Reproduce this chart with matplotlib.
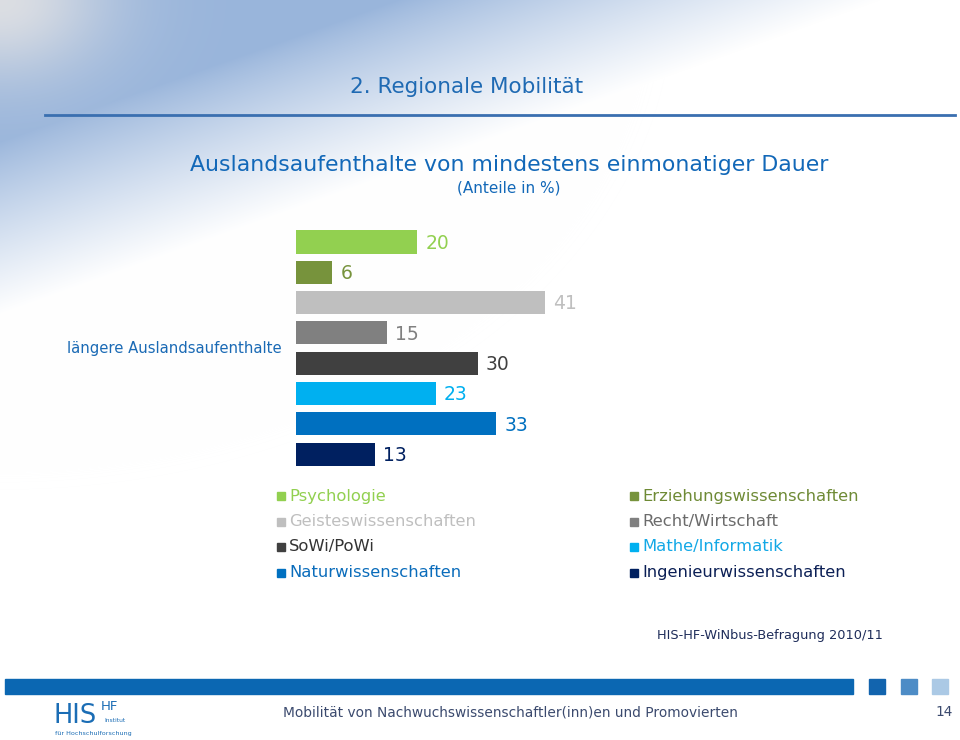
import numpy as np
import matplotlib
matplotlib.use("Agg")
import matplotlib.pyplot as plt
from matplotlib.patches import Rectangle

# Data: share (%) of longer stays abroad by discipline
faecher = ['Psychologie', 'Erziehungswissenschaften', 'Geisteswissenschaften',
           'Recht/Wirtschaft', 'SoWi/PoWi', 'Mathe/Informatik',
           'Naturwissenschaften', 'Ingenieurwissenschaften']
werte = [20, 6, 41, 15, 30, 23, 33, 13]
farben = ['#92D050', '#77933C', '#BFBFBF', '#808080',
          '#404040', '#00B0F0', '#0070C0', '#002060']
textfarben = ['#92D050', '#6E8A35', '#BFBFBF', '#6B6B6B',
              '#333333', '#12A8E6', '#0A6CBB', '#0B1F55']
kategorie = 'längere Auslandsaufenthalte'

W, H = 960, 740
fig = plt.figure(figsize=(W / 100, H / 100), dpi=100)

# background axes in pixel coordinates
bg = fig.add_axes([0, 0, 1, 1])
bg.set_xlim(0, W)
bg.set_ylim(H, 0)
bg.axis('off')

# soft diagonal blue gradient from the upper left corner
yy, xx = np.mgrid[0:H, 0:W].astype(float)
t = xx / 880.0 + yy / 315.0
s = np.clip((t - 0.45) / 0.55, 0, 1)
fade = s ** 0.85
blue = np.array([0.60, 0.71, 0.86])
img = blue[None, None, :] * (1 - fade[..., None]) + fade[..., None]
corner = np.exp(-((xx / 110.0) ** 2 + (yy / 80.0) ** 2))
grey = np.array([0.86, 0.87, 0.89])
img = img * (1 - corner[..., None]) + grey[None, None, :] * corner[..., None]
bg.imshow(img, extent=[0, W, H, 0], aspect='auto', zorder=0)

# header
bg.text(467, 87, '2. Regionale Mobilität', ha='center', va='center',
        fontsize=15.5, color='#1F6AB3')
bg.plot([45, 955], [115, 115], color='#3A6FB0', lw=2)

bg.text(509, 165, 'Auslandsaufenthalte von mindestens einmonatiger Dauer',
        ha='center', va='center', fontsize=15.8, color='#1268B8')
bg.text(509, 188, '(Anteile in %)', ha='center', va='center',
        fontsize=11, color='#1268B8')

bg.text(282, 348, kategorie, ha='right', va='center',
        fontsize=10.75, color='#1A6AB5')

# legend (two columns)
leg_order = [0, 2, 4, 6, 1, 3, 5, 7]
for k, idx in enumerate(leg_order):
    col, row = divmod(k, 4)
    x0 = 277 + col * 353
    y0 = 496 + row * 25.5
    bg.add_patch(Rectangle((x0, y0 - 4), 8, 8, color=farben[idx], zorder=3))
    bg.text(x0 + 12, y0, faecher[idx], ha='left', va='center',
            fontsize=11.8, color=textfarben[idx])

# source
bg.text(883, 635, 'HIS-HF-WiNbus-Befragung 2010/11', ha='right', va='center',
        fontsize=9.3, color='#1F2D5A')

# footer bar and squares
bg.add_patch(Rectangle((5, 679), 848, 15, color='#0B67B2', zorder=2))
for xs, c in zip([869, 901, 932], ['#1264AE', '#4D8CC6', '#ABC9E5']):
    bg.add_patch(Rectangle((xs, 679), 16, 15, color=c, zorder=2))

bg.text(510, 712, 'Mobilität von Nachwuchswissenschaftler(inn)en und Promovierten',
        ha='center', va='center', fontsize=9.9, color='#3B4A6E')
bg.text(944, 712, '14', ha='center', va='center', fontsize=9.9, color='#3B4A6E')

# logo
bg.text(54, 716, 'HIS', ha='left', va='center', fontsize=18.5, color='#1B6DB5')
bg.text(101, 707, 'HF', ha='left', va='center', fontsize=9.5, color='#1B6DB5')
bg.text(104, 721, 'Institut', ha='left', va='center', fontsize=4.3,
        color='#1B6DB5')
bg.text(55, 734, 'für Hochschulforschung', ha='left', va='center',
        fontsize=4.6, color='#1B6DB5')

# bar chart axes: x=0 at px 296, 6.07 px per unit, rows every 30.3 px
px_per_unit = 6.07
x_left, x_units = 296, 55
row0, row_step = 242, 30.3
top_px = row0 - row_step / 2
bot_px = row0 + row_step * (len(werte) - 0.5)
ax = fig.add_axes([x_left / W, 1 - bot_px / H,
                   x_units * px_per_unit / W, (bot_px - top_px) / H])
ax.patch.set_alpha(0)
ypos = np.arange(len(werte))
ax.barh(ypos, werte, height=0.76, color=farben, zorder=3)
for i, v in enumerate(werte):
    ax.text(v + 1.3, i + 0.04, str(v), ha='left', va='center',
            fontsize=13.5, color=farben[i])
ax.set_xlim(0, x_units)
ax.set_ylim(len(werte) - 0.5, -0.5)
ax.axis('off')

fig.savefig('out.png', dpi=100)
